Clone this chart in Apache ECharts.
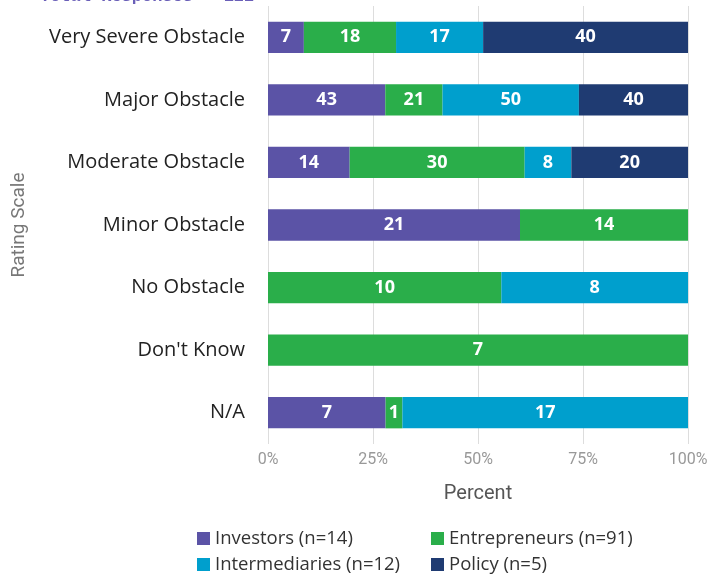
<!DOCTYPE html>
<html>
<head>
<meta charset="utf-8">
<script src="https://cdn.jsdelivr.net/npm/echarts@6/dist/echarts.min.js"></script>
<style>
  html, body { margin: 0; padding: 0; background: #fff; }
  #chart { width: 708px; height: 575px; }
</style>
</head>
<body>
<div id="chart"></div>
<script>
// Rating rows, top to bottom
const categories = ["Very Severe Obstacle", "Major Obstacle", "Moderate Obstacle", "Minor Obstacle", "No Obstacle", "Don't Know", "N/A"];
const groupNames = ["Investors (n=14)", "Entrepreneurs (n=91)", "Intermediaries (n=12)", "Policy (n=5)"];
const colors = ["#5b53a6", "#2aae4a", "#009fcd", "#1f3b72"];

// Values shown on the bars (percent within each group)
const investors = [7, 43, 14, 21, 0, 0, 7];
const entrepreneurs = [18, 21, 30, 14, 10, 7, 1];
const intermediaries = [17, 50, 8, 0, 8, 0, 17];
const policy = [40, 40, 20, 0, 0, 0, 0];

const xTicks = [0, 25, 50, 75, 100];

const groups = [investors, entrepreneurs, intermediaries, policy];

// each row is stretched to 100%
const rowTotals = categories.map((c, i) => groups.reduce((s, g) => s + g[i], 0));

const chart = echarts.init(document.getElementById("chart"));

const series = groups.map((g, k) => ({
  name: groupNames[k],
  type: "bar",
  stack: "total",
  barWidth: "50%",
  itemStyle: { color: colors[k] },
  label: {
    show: true,
    color: "#fff",
    fontFamily: "Open Sans",
    fontWeight: "bold",
    fontSize: 18,
    formatter: (p) => (p.data.raw ? p.data.raw : "")
  },
  data: g.map((v, i) => ({ value: v ? (v / rowTotals[i]) * 100 : 0, raw: v }))
}));

// one legend per entry so the 2x2 layout is fixed
const legendPos = [[192, 524], [426, 524], [192, 550], [426, 550]];
const legends = groupNames.map((n, k) => ({
  data: [n],
  left: legendPos[k][0],
  top: legendPos[k][1],
  itemWidth: 13,
  itemHeight: 13,
  icon: "rect",
  textStyle: { fontFamily: "Open Sans", fontSize: 18.5, color: "#333" }
}));

chart.setOption({
  animation: false,
  backgroundColor: "#fff",
  grid: { left: 268, right: 20, top: 6, bottom: 131, containLabel: false, outerBoundsMode: "none" },
  graphic: [{
    type: "text",
    left: 40,
    top: -12,
    style: {
      text: "Total Responses = 122",
      font: "bold 17px 'Liberation Mono'",
      fill: "#6a5fb8"
    }
  }],
  legend: legends,
  xAxis: {
    type: "value",
    min: 0,
    max: 100,
    interval: 25,
    name: "Percent",
    nameLocation: "middle",
    nameGap: 40,
    nameTextStyle: { fontFamily: "Roboto", fontSize: 20, color: "#555" },
    axisLine: { show: false },
    axisTick: { show: false },
    axisLabel: {
      fontFamily: "Roboto",
      fontSize: 16,
      color: "#999",
      margin: 8,
      formatter: (v) => (xTicks.includes(v) ? v + "%" : "")
    },
    splitLine: { show: true, lineStyle: { color: "#ddd", width: 1 } }
  },
  yAxis: {
    type: "category",
    data: categories,
    inverse: true,
    name: "Rating Scale",
    nameLocation: "middle",
    nameGap: 239,
    nameRotate: 90,
    nameTextStyle: { fontFamily: "Roboto", fontSize: 19, color: "#777" },
    axisLine: { show: false },
    axisTick: { show: false },
    axisLabel: { fontFamily: "Open Sans", fontSize: 20, color: "#222", margin: 23 }
  },
  series: series
});
</script>
</body>
</html>
